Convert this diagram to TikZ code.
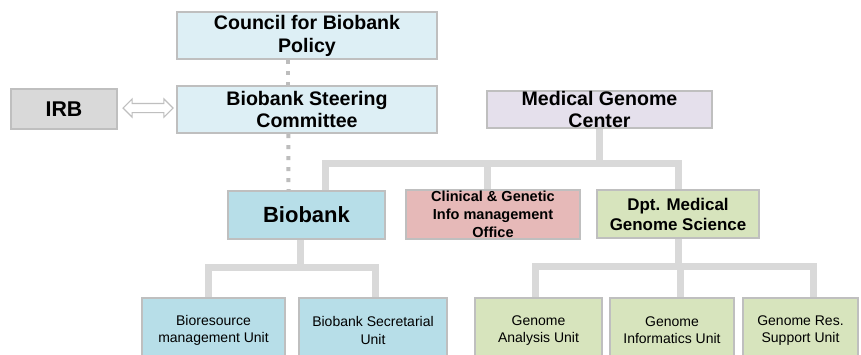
\documentclass[tikz,border=0pt]{standalone}
\usepackage{fontspec}
\setmainfont{Liberation Sans}
\usetikzlibrary{shapes.arrows,backgrounds}
\definecolor{edgegray}{HTML}{BFBFBF}
\definecolor{linkgray}{HTML}{D9D9D9}
\definecolor{dotgray}{HTML}{BDBDBD}
\definecolor{paleblue}{HTML}{DDEFF5}
\definecolor{midblue}{HTML}{B7DEE8}
\definecolor{irbgray}{HTML}{D9D9D9}
\definecolor{lavender}{HTML}{E5E0EC}
\definecolor{rosy}{HTML}{E6B9B8}
\definecolor{olive}{HTML}{D7E4BD}
\tikzset{
  orgbox/.style={draw=edgegray, line width=1.6pt, inner sep=0pt, align=center},
  headtext/.style={font=\bfseries\fontsize{14.7}{17.2}\selectfont},
  unittext/.style={font=\fontsize{10.5}{13}\selectfont},
  unitbox/.style={orgbox, unittext, minimum height=48.75pt},
  link/.style={draw=linkgray, line width=5.25pt},
  dotlink/.style={draw=dotgray, line width=3pt, dash pattern=on 3pt off 5.25pt}
}
\begin{document}
\begin{tikzpicture}[x=0.75pt,y=-0.75pt]
\clip (0,0) rectangle (861,354);
\useasboundingbox (0,0) rectangle (861,354);

% governance column
\node (council) [orgbox, headtext, fill=paleblue, minimum width=195pt, minimum height=35.25pt] at (307,35.5) {Council for Biobank\\Policy};
\node (steer) [orgbox, headtext, fill=paleblue, minimum width=195pt, minimum height=35.25pt] at (307,109.5) {Biobank Steering\\Committee};
\node (irb) [orgbox, fill=irbgray, font=\bfseries\fontsize{16}{18}\selectfont, minimum width=79.5pt, minimum height=30pt] at (64,109) {IRB};
\node (dbl) [double arrow, draw=edgegray, fill=white, line width=0.8pt, minimum height=37.5pt, inner xsep=0pt, inner ysep=3pt, double arrow head extend=3.5pt] at (148,108) {};

% genome center
\node (mgc) [orgbox, headtext, fill=lavender, minimum width=168.75pt, minimum height=27.75pt] at (599.5,109.5) {Medical Genome\\Center};

% second level
\node (biobank) [orgbox, fill=midblue, font=\bfseries\fontsize{16.5}{19}\selectfont, minimum width=117.75pt, minimum height=36pt] at (306.5,215) {Biobank};
\node (cgi) [orgbox, fill=rosy, font=\bfseries\fontsize{10.9}{13.5}\selectfont, minimum width=130.5pt, minimum height=36.75pt] at (493,214.5) {Clinical \& Genetic\\Info management\\Office};
\node (dpt) [orgbox, fill=olive, font=\bfseries\fontsize{12.7}{15}\selectfont, minimum width=121.5pt, minimum height=36pt] at (678,214) {Dpt. Medical\\Genome Science};

% units
\node (bru) [unitbox, fill=midblue, minimum width=107.25pt] at (213.5,330.5) {Bioresource\\management Unit};
\node (bsu) [unitbox, fill=midblue, minimum width=111pt] at (373,330.5) {Biobank Secretarial\\Unit};
\node (gau) [unitbox, fill=olive, minimum width=95.25pt] at (538.5,330.5) {Genome\\Analysis Unit};
\node (giu) [unitbox, fill=olive, minimum width=93pt] at (672,330.5) {Genome\\Informatics Unit};
\node (gru) [unitbox, fill=olive, minimum width=86.25pt] at (800.5,330.5) {Genome Res.\\Support Unit};

\coordinate (topbar) at (0,163);
\coordinate (bbbar) at (0,267);
\coordinate (gnbar) at (0,266);

\begin{scope}[on background layer]
  \fill[white] (0,0) rectangle (861,354);
  % Medical Genome Center branches
  \draw[link] ([xshift=14.5]biobank.north) -- ([xshift=14.5]biobank.north |- topbar) -- (dpt.north |- topbar) -- (dpt.north);
  \draw[link] (mgc.south) -- (mgc.south |- topbar);
  \draw[link] ([xshift=-4]cgi.north) -- ([xshift=-4]cgi.north |- topbar);
  % Biobank branches
  \draw[link] ([xshift=-4.5]biobank.south) -- ([xshift=-4.5]biobank.south |- bbbar);
  \draw[link] ([xshift=-3.5]bru.north) -- ([xshift=-3.5]bru.north |- bbbar) -- ([xshift=2]bsu.north |- bbbar) -- ([xshift=2]bsu.north);
  % department branches
  \draw[link] (dpt.south) -- (dpt.south |- gnbar);
  \draw[link] ([xshift=-2.5]gau.north) -- ([xshift=-2.5]gau.north |- gnbar) -- ([xshift=9.5]gru.north |- gnbar) -- ([xshift=9.5]gru.north);
  \draw[link] ([xshift=6]giu.north) -- ([xshift=6]giu.north |- gnbar);
  % advisory links
  \draw[dotlink] ([xshift=-14]council.south) -- ([xshift=-14]steer.north);
  \draw[dotlink] ([xshift=-14]steer.south) -- ([xshift=-13.5]biobank.north);
\end{scope}
\end{tikzpicture}
\end{document}
